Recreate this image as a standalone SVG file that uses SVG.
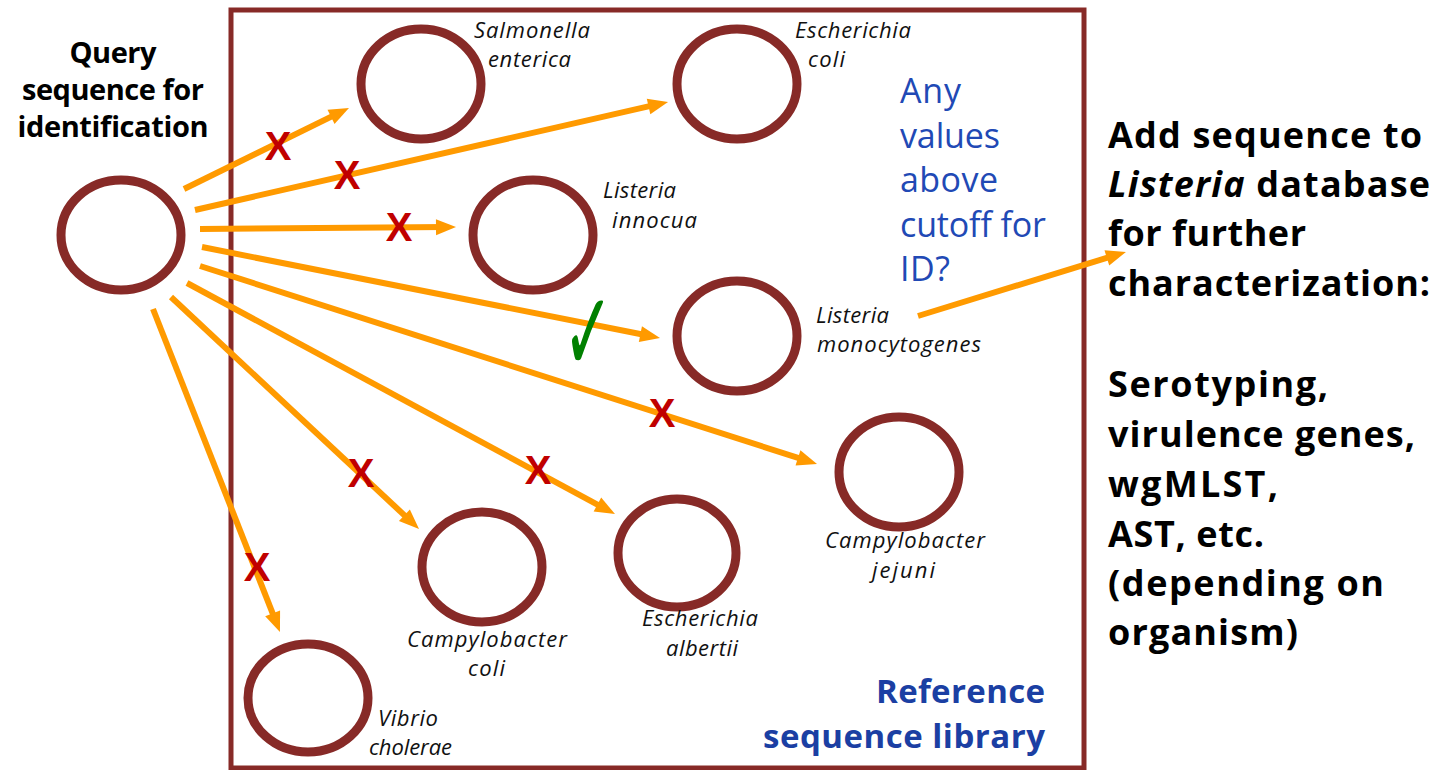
<svg xmlns="http://www.w3.org/2000/svg" width="1436" height="770" viewBox="0 0 1436 770">
<style>
.circ{fill:none;stroke:#872A27;stroke-width:9}
.box{fill:none;stroke:#872A27;stroke-width:5}
.conn{stroke:#FF9A00;stroke-width:6;fill:none;marker-end:url(#ah)}
.sp{font-family:"Open Sans","Liberation Sans",sans-serif;font-style:italic;font-size:22px;fill:#111}
.bk{font-family:"Open Sans","Liberation Sans",sans-serif;font-weight:700;fill:#000}
.blue{font-family:"Open Sans","Liberation Sans",sans-serif;font-size:34px;fill:#2149B5}
.ref{font-family:"Open Sans","Liberation Sans",sans-serif;font-weight:700;font-size:33px;fill:#1B3FA3}
.x{font-family:"Liberation Sans",Arial,sans-serif;font-weight:700;font-size:40px;fill:#C00000;text-anchor:middle}
</style>
<defs>
<marker id="ah" markerUnits="userSpaceOnUse" markerWidth="22" markerHeight="18" refX="10" refY="8" orient="auto" overflow="visible">
<path d="M0,0 L20,8 L0,16 Z" fill="#FF9A00"/>
</marker>
</defs>
<rect class="box" x="231" y="10" width="853" height="758"/>

<g id="query">
<ellipse class="circ" cx="121" cy="235" rx="60" ry="55"/>
<text class="bk" font-size="29" text-anchor="middle"><tspan x="113" y="63" textLength="87">Query</tspan><tspan x="113" y="100" textLength="182">sequence for</tspan><tspan x="113" y="137" textLength="191">identification</tspan></text>
</g>

<g id="salmonella">
<ellipse class="circ" cx="421" cy="84" rx="60" ry="55"/>
<text class="sp" x="474" y="38" textLength="116">Salmonella</text>
<text class="sp" x="488" y="67" textLength="83">enterica</text>
</g>
<g id="ecoli">
<ellipse class="circ" cx="737" cy="84" rx="60" ry="55"/>
<text class="sp" x="795" y="38" textLength="116">Escherichia</text>
<text class="sp" x="808" y="67" textLength="37">coli</text>
</g>
<g id="linnocua">
<ellipse class="circ" cx="533" cy="235" rx="60" ry="55"/>
<text class="sp" x="603" y="198" textLength="73">Listeria</text>
<text class="sp" x="612" y="228" textLength="85">innocua</text>
</g>
<g id="lmono">
<ellipse class="circ" cx="737" cy="336" rx="60" ry="55"/>
<text class="sp" x="816" y="323" textLength="73">Listeria</text>
<text class="sp" x="817" y="352" textLength="164">monocytogenes</text>
</g>
<g id="cjejuni">
<ellipse class="circ" cx="899" cy="472" rx="60" ry="55"/>
<text class="sp" x="825" y="548" textLength="160">Campylobacter</text>
<text class="sp" x="872" y="578" textLength="63">jejuni</text>
</g>
<g id="ccoli">
<ellipse class="circ" cx="482" cy="567" rx="60" ry="55"/>
<text class="sp" x="407" y="647" textLength="160">Campylobacter</text>
<text class="sp" x="468" y="676" textLength="37">coli</text>
</g>
<g id="ealbertii">
<ellipse class="circ" cx="677" cy="553" rx="59" ry="54"/>
<text class="sp" x="642" y="626" textLength="116">Escherichia</text>
<text class="sp" x="666" y="656" textLength="72">albertii</text>
</g>
<g id="vibrio">
<ellipse class="circ" cx="308" cy="698" rx="60" ry="54"/>
<text class="sp" x="378" y="726" textLength="60">Vibrio</text>
<text class="sp" x="369" y="755" textLength="83">cholerae</text>
</g>

<g id="question">
<text class="blue"><tspan x="900" y="103" textLength="61">Any</tspan><tspan x="900" y="148" textLength="100">values</tspan><tspan x="900" y="192" textLength="98">above</tspan><tspan x="900" y="237" textLength="146">cutoff for</tspan><tspan x="900" y="281" textLength="50">ID?</tspan></text>
</g>
<g id="library">
<text class="ref" text-anchor="end"><tspan x="1045" y="703" textLength="169">Reference</tspan><tspan x="1045" y="748" textLength="282">sequence library</tspan></text>
</g>
<g id="next">
<text class="bk" font-size="36">
<tspan x="1108" y="148" textLength="314">Add sequence to</tspan>
<tspan x="1108" y="197" textLength="322"><tspan font-style="italic">Listeria</tspan> database</tspan>
<tspan x="1108" y="246" textLength="198">for further</tspan>
<tspan x="1108" y="296" textLength="322">characterization:</tspan>
<tspan x="1108" y="397" textLength="220">Serotyping,</tspan>
<tspan x="1108" y="447" textLength="307">virulence genes,</tspan>
<tspan x="1108" y="497" textLength="170">wgMLST,</tspan>
<tspan x="1108" y="547" textLength="156">AST, etc.</tspan>
<tspan x="1108" y="596" textLength="276">(depending on</tspan>
<tspan x="1108" y="645" textLength="190">organism)</tspan>
</text>
</g>

<g id="connectors">
<line class="conn" x1="184" y1="189" x2="340" y2="112.4"/>
<line class="conn" x1="195" y1="210" x2="658.3" y2="104.2"/>
<line class="conn" x1="200" y1="229" x2="446" y2="227.1"/>
<line class="conn" x1="202" y1="247" x2="650.2" y2="336"/>
<line class="conn" x1="200" y1="266" x2="807.5" y2="460.9"/>
<line class="conn" x1="187" y1="283" x2="606.2" y2="509.3"/>
<line class="conn" x1="171" y1="297" x2="411.7" y2="522.1"/>
<line class="conn" x1="153" y1="309" x2="276.3" y2="622.7"/>
<line class="conn" x1="918" y1="316" x2="1116.4" y2="254.9"/>
</g>

<g id="marks">
<text class="x" x="278" y="160">X</text>
<text class="x" x="347" y="189">X</text>
<text class="x" x="399" y="241">X</text>
<text class="x" x="662" y="427">X</text>
<text class="x" x="361" y="487">X</text>
<text class="x" x="538" y="484">X</text>
<text class="x" x="257" y="581">X</text>
<text font-family="DejaVu Sans,sans-serif" font-weight="700" font-size="80" fill="#008000" transform="translate(563,371) scale(0.75,1.4)">✓</text>
</g>
</svg>
